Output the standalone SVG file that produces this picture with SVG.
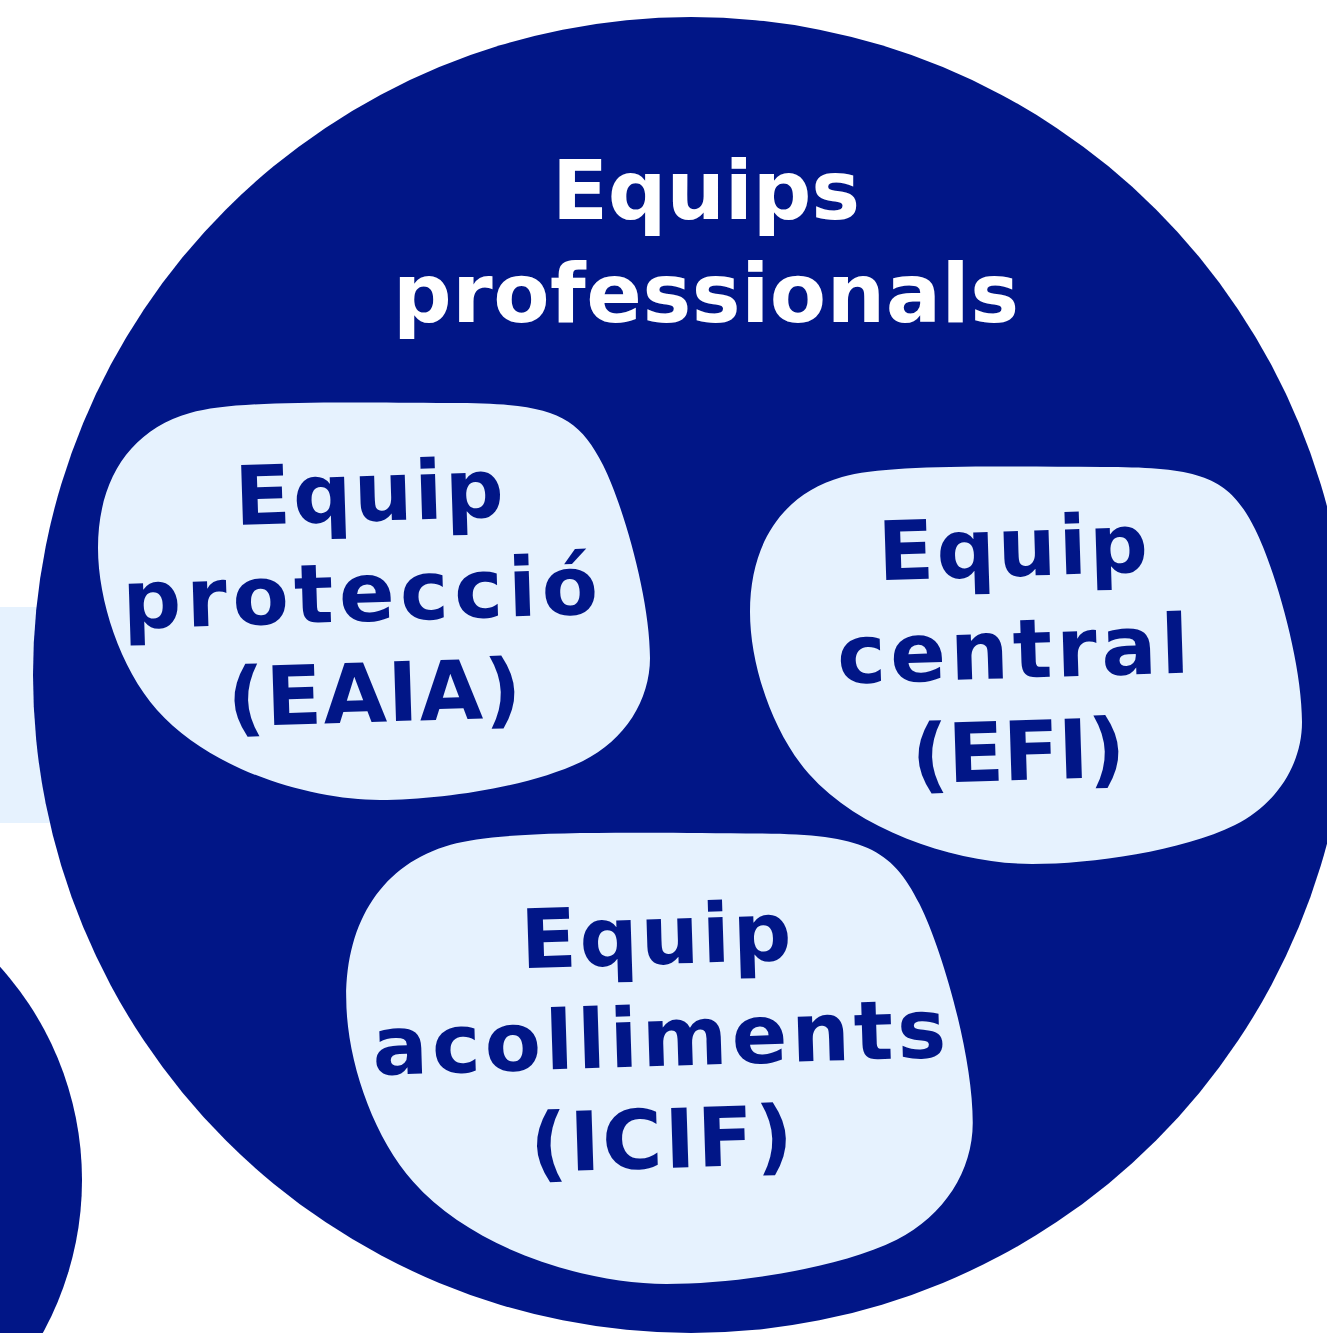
<svg xmlns="http://www.w3.org/2000/svg" width="1327" height="1333" viewBox="0 0 1327 1333">
<style>
.dark{fill:#011687}
.light{fill:#E6F2FE}
.t{font-family:"DejaVu Sans","Liberation Sans",sans-serif;font-weight:700;text-anchor:middle;font-size:82px}
.tw{fill:#FFFFFF}
.tb{fill:#011687}
</style>
<defs>
<path id="blob" d="M 190 413 C 232 401, 320 402, 450 403 C 550 403, 577 413, 603 465 C 623 505, 650 598, 650 658 C 650 700, 625 740, 583 761 C 530 787, 440 800, 380 800 C 310 800, 210 770, 157 710 C 120 668, 98 600, 98 548 C 98 480, 130 430, 190 413 Z"/>
</defs>
<rect width="1327" height="1333" fill="#FFFFFF"/>
<g id="background">
<rect class="light" x="0" y="607" width="140" height="216"/>
<circle class="dark" cx="-236" cy="1180" r="318"/>
</g>
<g id="equips-professionals">
<circle class="dark" cx="691" cy="675" r="658"/>
<text class="t tw" x="706" y="219" textLength="308" lengthAdjust="spacing">Equips</text>
<text class="t tw" x="706" y="322" textLength="626" lengthAdjust="spacing">professionals</text>
</g>
<g id="equip-proteccio">
<use href="#blob" class="light"/>
<g transform="rotate(-1.8 367 620)">
<text class="t tb" x="373" y="521" textLength="269" lengthAdjust="spacing">Equip</text>
<text class="t tb" x="361" y="621" textLength="476" lengthAdjust="spacing">protecció</text>
<text class="t tb" x="372" y="722" textLength="294" lengthAdjust="spacing">(EAIA)</text>
</g>
</g>
<g id="equip-central">
<use href="#blob" class="light" transform="translate(652 64)"/>
<g transform="rotate(-1.8 1016 678)">
<text class="t tb" x="1017" y="576" textLength="270" lengthAdjust="spacing">Equip</text>
<text class="t tb" x="1014" y="678" textLength="352" lengthAdjust="spacing">central</text>
<text class="t tb" x="1016" y="780" textLength="214" lengthAdjust="spacing">(EFI)</text>
</g>
</g>
<g id="equip-acolliments">
<use href="#blob" class="light" transform="translate(235 376) scale(1.135)"/>
<g transform="rotate(-1.8 660 1065)">
<text class="t tb" x="660" y="964" textLength="271" lengthAdjust="spacing">Equip</text>
<text class="t tb" x="660" y="1066" textLength="574" lengthAdjust="spacing">acolliments</text>
<text class="t tb" x="659" y="1168" textLength="263" lengthAdjust="spacing">(ICIF)</text>
</g>
</g>
<g id="connectors"/>
</svg>
